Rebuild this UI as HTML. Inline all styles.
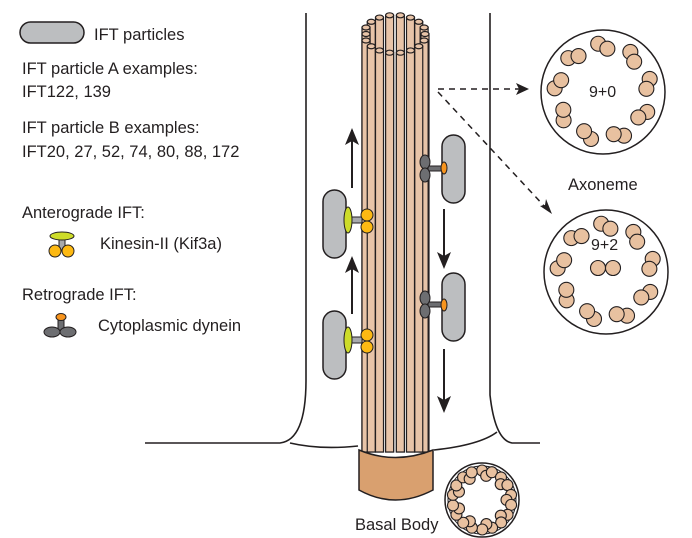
<!DOCTYPE html>
<html><head><meta charset="utf-8"><style>
html,body{margin:0;padding:0;background:#fff}
svg{display:block}
text{font-family:"Liberation Sans",sans-serif;fill:#231f20}
</style></head><body>
<svg id="s" width="692" height="538" viewBox="0 0 692 538" xmlns="http://www.w3.org/2000/svg">
<!-- legend -->
<rect x="20" y="22" width="64" height="21" rx="10.5" fill="#bcbec0" stroke="#231f20" stroke-width="1.5"/>
<text x="94" y="40" font-size="16.5">IFT particles</text>
<text x="22" y="74" font-size="16.5">IFT particle A examples:</text>
<text x="22" y="97" font-size="16.5">IFT122, 139</text>
<text x="22" y="133" font-size="16.5">IFT particle B examples:</text>
<text x="22" y="157" font-size="16.5">IFT20, 27, 52, 74, 80, 88, 172</text>
<text x="22" y="218" font-size="16.5">Anterograde IFT:</text>
<text x="100" y="249" font-size="16.5">Kinesin-II (Kif3a)</text>
<text x="22" y="300" font-size="16.5">Retrograde IFT:</text>
<text x="98" y="331" font-size="16.5">Cytoplasmic dynein</text>
<!-- legend kinesin -->
<rect x="59" y="236" width="6" height="14" fill="#a7a9ac" stroke="#231f20"/>
<ellipse cx="62" cy="236" rx="12" ry="4" fill="#cddc29" stroke="#231f20"/>
<circle cx="55" cy="251" r="6" fill="#fdb913" stroke="#231f20"/>
<circle cx="68" cy="251" r="6" fill="#fdb913" stroke="#231f20"/>
<!-- legend dynein -->
<rect x="58" y="318" width="6" height="14" fill="#6d6e71" stroke="#231f20"/>
<ellipse cx="61" cy="317" rx="5" ry="3.5" fill="#f7941d" stroke="#231f20"/>
<ellipse cx="52" cy="332" rx="8" ry="5" fill="#6d6e71" stroke="#231f20"/>
<ellipse cx="68" cy="332" rx="8" ry="5" fill="#6d6e71" stroke="#231f20"/>
<!-- membranes -->
<g fill="none" stroke="#231f20" stroke-width="1.6">
<path d="M306,13 L306,380 Q306,440 280,443 L145,443"/>
<path d="M358,446 Q320,450 290,443"/>
<path d="M490,13 L490,395 Q495,440 512,443 L540,443"/>
<path d="M434,450 Q480,445 497,432"/>
</g>
<!-- axoneme bundle -->
<g id="bundle"></g>
<!-- basal body -->
<path d="M359,450 Q395,465 433,450 L433,490 Q395,510 359,490 Z" fill="#d9a06f" stroke="#231f20" stroke-width="1.5"/>
<!-- particles -->
<g stroke="#231f20" stroke-width="1.5">
<rect x="323" y="190" width="23" height="68" rx="11.5" fill="#bcbec0"/>
<rect x="323" y="311" width="23" height="68" rx="11.5" fill="#bcbec0"/>
<rect x="442" y="135" width="23" height="68" rx="11.5" fill="#bcbec0"/>
<rect x="442" y="273" width="23" height="68" rx="11.5" fill="#bcbec0"/>
</g>
<!-- kinesins -->
<g stroke="#231f20" stroke-width="1">
<rect x="348" y="217" width="14" height="6" fill="#a7a9ac"/>
<ellipse cx="348" cy="220" rx="4" ry="13" fill="#cddc29"/>
<circle cx="367" cy="215" r="6" fill="#fdb913"/><circle cx="367" cy="227" r="6" fill="#fdb913"/>
<rect x="348" y="337" width="14" height="6" fill="#a7a9ac"/>
<ellipse cx="348" cy="340" rx="4" ry="13" fill="#cddc29"/>
<circle cx="367" cy="335" r="6" fill="#fdb913"/><circle cx="367" cy="347" r="6" fill="#fdb913"/>
<!-- dyneins -->
<rect x="428" y="166" width="16" height="5" fill="#6d6e71"/>
<ellipse cx="444" cy="168" rx="3" ry="6" fill="#f7941d"/>
<ellipse cx="425" cy="162" rx="5" ry="7" fill="#6d6e71"/><ellipse cx="425" cy="175" rx="5" ry="7" fill="#6d6e71"/>
<rect x="428" y="302" width="16" height="5" fill="#6d6e71"/>
<ellipse cx="444" cy="305" rx="3" ry="6" fill="#f7941d"/>
<ellipse cx="425" cy="298" rx="5" ry="7" fill="#6d6e71"/><ellipse cx="425" cy="311" rx="5" ry="7" fill="#6d6e71"/>
</g>
<!-- arrows -->
<g stroke="#231f20" stroke-width="2" fill="none">
<line x1="352" y1="188" x2="352" y2="130"/>
<line x1="352" y1="314" x2="352" y2="258"/>
<line x1="444" y1="209" x2="444" y2="266"/>
<line x1="444" y1="349" x2="444" y2="410"/>
</g>
<g fill="#231f20">
<path d="M352,128 L345,145 L352,141 L359,145 Z"/>
<path d="M352,256 L345,273 L352,269 L359,273 Z"/>
<path d="M444,269 L437,252 L444,256 L451,252 Z"/>
<path d="M444,413 L437,396 L444,400 L451,396 Z"/>
</g>
<!-- dashed -->
<g stroke="#231f20" stroke-width="1.5" stroke-dasharray="6,5" fill="none">
<line x1="438" y1="89" x2="520" y2="89"/>
<line x1="438" y1="92" x2="546" y2="208"/>
</g>
<path d="M529,89 L516,83 L519,89 L516,95 Z" fill="#231f20"/>
<path d="M552,214 L540,206 L545,205 L546,199 Z" fill="#231f20"/>
<!-- cross-sections -->
<circle cx="603" cy="92" r="62" fill="#fff" stroke="#231f20" stroke-width="1.5"/>
<circle cx="606" cy="272" r="62" fill="#fff" stroke="#231f20" stroke-width="1.5"/>
<circle cx="482" cy="500" r="37" fill="#fff" stroke="#231f20" stroke-width="1.5"/>
<circle cx="482" cy="500" r="34" fill="none" stroke="#231f20" stroke-width="1"/>
<g id="dbl"></g>
<text x="589" y="97" font-size="16">9+0</text>
<text x="591" y="250" font-size="16">9+2</text>
<text x="568" y="190" font-size="16.5">Axoneme</text>
<text x="355" y="530" font-size="16.5">Basal Body</text>
</svg>
<script>
var NS="http://www.w3.org/2000/svg";
function el(p,t,a){var e=document.createElementNS(NS,t);for(var k in a)e.setAttribute(k,a[k]);p.appendChild(e);return e;}
var b=document.getElementById("bundle");
var tops=[];
for(var i=0;i<18;i++){var a=Math.PI*2*i/18;tops.push({x:395+Math.cos(a)*31,y:34-Math.sin(a)*19});}
tops.sort(function(p,q){return p.y-q.y;});
tops.forEach(function(p){
 var x=Math.max(366,Math.min(425,p.x));
 el(b,"rect",{x:x-4,y:p.y,width:8,height:452-p.y,fill:"#e8c4a8",stroke:"#231f20","stroke-width":1.2});
 el(b,"ellipse",{cx:x,cy:p.y,rx:4,ry:2.5,fill:"#e8c4a8",stroke:"#231f20","stroke-width":1.2});
});
var d=document.getElementById("dbl");
function ring(cx,cy,R,r,n,off,k,sep){
 for(var i=0;i<n;i++){var a=Math.PI*2*i/n+off;
  for(var j=0;j<k;j++){var t=a+(j-(k-1)/2)*sep;var rr=R+(j%2?-2.5:2.5);
   el(d,"circle",{cx:cx+Math.cos(t)*rr,cy:cy+Math.sin(t)*rr,r:r,fill:"#e8c1a0",stroke:"#231f20","stroke-width":1.1});}}
}
ring(603,92,46,7.5,9,-1.57,2,0.2);
ring(606,272,46,7.5,9,-1.57,2,0.2);
el(d,"circle",{cx:598,cy:268,r:7.5,fill:"#e8c1a0",stroke:"#231f20","stroke-width":1.1});
el(d,"circle",{cx:613,cy:268,r:7.5,fill:"#e8c1a0",stroke:"#231f20","stroke-width":1.1});
ring(482,500,27,5.5,9,-1.4,3,0.17);
</script>
</body></html>
